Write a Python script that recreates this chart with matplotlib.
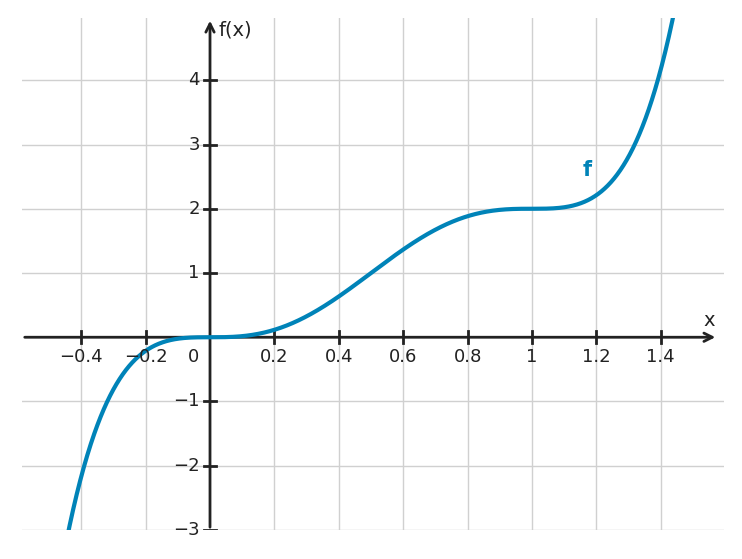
import numpy as np
import matplotlib
matplotlib.use("Agg")
import matplotlib.pyplot as plt

# polynomial coefficients of f (highest power first)
coeffs = [12, -30, 20, 0, 0, 0]
x_ticks = [-0.4, -0.2, 0.2, 0.4, 0.6, 0.8, 1.0, 1.2, 1.4]
x_labels = ["\u22120.4", "\u22120.2", "0.2", "0.4", "0.6", "0.8", "1", "1.2", "1.4"]
y_ticks = [-3, -2, -1, 1, 2, 3, 4]
y_labels = ["\u22123", "\u22122", "\u22121", "1", "2", "3", "4"]
grid_x = [-0.4, -0.2, 0.2, 0.4, 0.6, 0.8, 1.0, 1.2, 1.4]
grid_y = [-3, -2, -1, 1, 2, 3, 4]

blue = "#0083b8"
dark = "#222222"
fig = plt.figure(figsize=(7.42, 5.59), dpi=100)
ax = fig.add_axes([0.0296, 0.0519, 0.946, 0.916])
xmin, xmax, ymin, ymax = -0.584, 1.596, -3.0, 4.97
ax.set_xlim(xmin, xmax); ax.set_ylim(ymin, ymax)
ax.axis("off")
for g in grid_x:
    ax.axvline(g, color="#d0d0d0", lw=1, zorder=0)
for g in grid_y:
    ax.axhline(g, color="#d0d0d0", lw=1, zorder=0)

xs = np.linspace(xmin, xmax, 2000)
ys = np.polyval(coeffs, xs)
ax.plot(xs, ys, color=blue, lw=3, zorder=3, clip_on=True)

ax.annotate("", xy=(1.578, 0), xytext=(xmin, 0),
            arrowprops=dict(arrowstyle="->", color=dark, lw=2, mutation_scale=15), zorder=2)
ax.annotate("", xy=(0, 4.97), xytext=(0, ymin),
            arrowprops=dict(arrowstyle="->", color=dark, lw=2, mutation_scale=15), zorder=2)
for t, l in zip(x_ticks, x_labels):
    ax.plot([t, t], [-0.09, 0.09], color=dark, lw=2, zorder=2)
    ax.text(t, -0.16, l, ha="center", va="top", fontsize=13, color=dark)
for t, l in zip(y_ticks, y_labels):
    ax.plot([-0.018, 0.018], [t, t], color=dark, lw=2, zorder=2)
    ax.text(-0.032, t, l, ha="right", va="center", fontsize=13, color=dark)
ax.text(-0.05, -0.16, "0", ha="center", va="top", fontsize=13, color=dark)
ax.text(1.55, 0.12, "x", ha="center", va="bottom", fontsize=14, color=dark)
ax.text(0.025, 4.78, "f(x)", ha="left", va="center", fontsize=14, color=dark)
ax.text(1.17, 2.6, "f", ha="center", va="center", fontsize=15, color=blue, fontweight="bold")
fig.savefig("out.png", dpi=100)
